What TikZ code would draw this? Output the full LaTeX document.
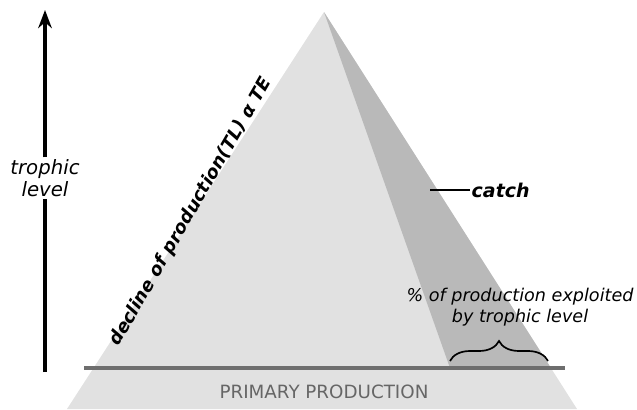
\documentclass[tikz,border=0pt]{standalone}
\usepackage{fontspec}
\setmainfont{DejaVu Sans}
\usetikzlibrary{arrows.meta,decorations.pathreplacing}

\definecolor{pyrlight}{RGB}{225,225,225}
\definecolor{pyrdark}{RGB}{185,185,185}
\definecolor{basegray}{RGB}{110,110,110}

\begin{document}
\begin{tikzpicture}[>=Stealth,x=0.025cm,y=-0.025cm]
  \tikzstyle{lbl}=[font=\itshape\fontsize{14}{16}\selectfont,align=center,inner sep=1pt]
  \tikzstyle{boldlbl}=[font=\bfseries\itshape\fontsize{13.5}{15}\selectfont,align=center,inner sep=1pt]
  \useasboundingbox (0,0) rectangle (637,409);
  % pyramid corners
  \coordinate (apex) at (324,12);
  \coordinate (bl) at (67,409);
  \coordinate (br) at (577,409);
  \coordinate (cl) at (450,368);
  \coordinate (cr) at (551,368);
  \fill[pyrlight] (apex) -- (bl) -- (br) -- cycle;
  \fill[pyrdark] (apex) -- (cl) -- (cr) -- cycle;
  \coordinate (lineL) at (84,368);
  \coordinate (lineR) at (565,368);
  \draw[draw=basegray,line width=2.2pt] (lineL) -- (lineR);
  \node[text=black!60,font=\fontsize{13}{15}\selectfont] (pp) at (324,392) {PRIMARY PRODUCTION};
  % trophic level arrow
  \node[lbl] (tl) at (45,178) {trophic\\level};
  \coordinate (arrbot) at (45,372);
  \coordinate (arrtop) at (45,10);
  \draw[line width=2.2pt] (arrbot) -- (tl);
  \draw[line width=2.2pt,->] (tl) -- (arrtop);
  % labels on the pyramid
  \node[boldlbl,font=\bfseries\itshape\fontsize{12.8}{15}\selectfont,rotate=60] (decl) at (191,212) {decline of production(TL) α TE};
  \coordinate (cline) at (430,190);
  \node[boldlbl,anchor=west] (catch) at (470,190) {catch};
  \draw[line width=1.2pt] (cline) -- (catch.west);
  \node[lbl,font=\itshape\fontsize{12.5}{15}\selectfont] (expl) at (520,307) {\% of production exploited\\by trophic level};
  \coordinate (brL) at (450,361);
  \coordinate (brR) at (548,361);
  \draw[line width=1.2pt,decorate,decoration={brace,amplitude=0.5cm}] (brL) -- (brR);
\end{tikzpicture}
\end{document}
